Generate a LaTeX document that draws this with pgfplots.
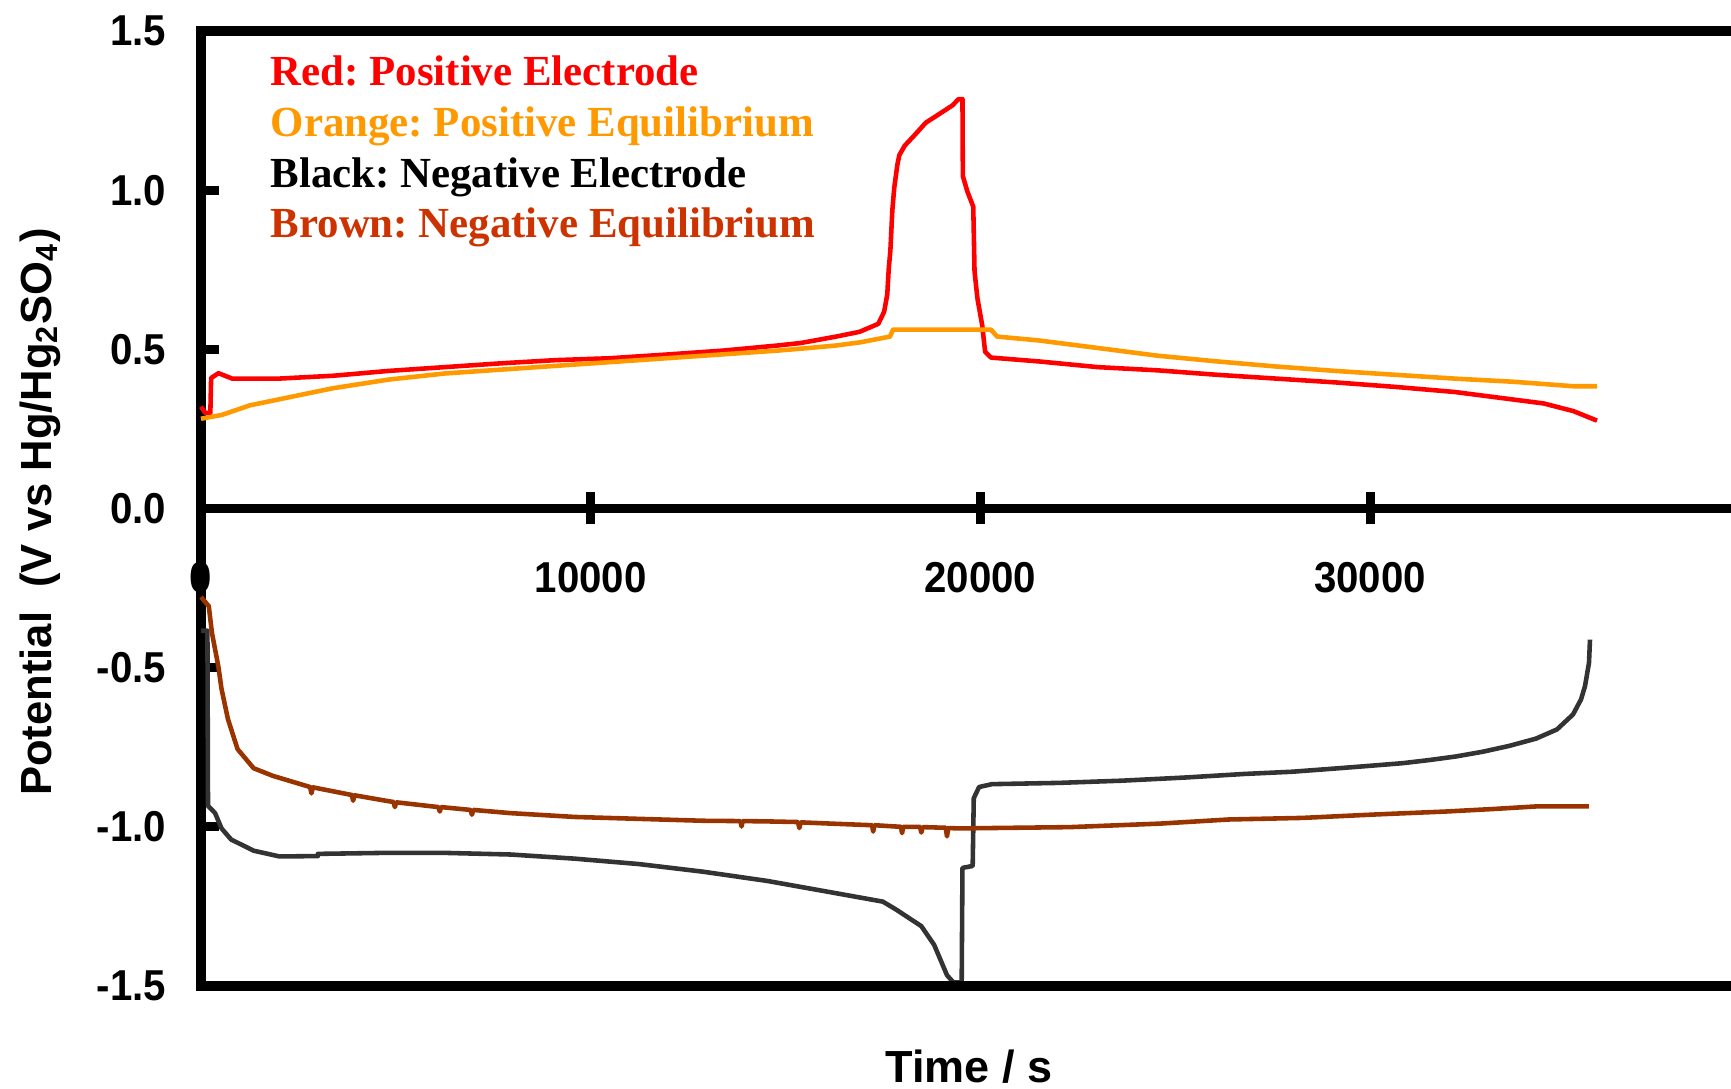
\documentclass[border=0pt]{standalone}
\usepackage{fontspec}
\setmainfont{Liberation Sans}
\newfontfamily\tnr{Liberation Serif}
\usepackage{pgfplots}
\pgfplotsset{compat=1.18}
\definecolor{cred}{RGB}{255,0,0}
\definecolor{corange}{RGB}{255,153,0}
\definecolor{cblack}{RGB}{51,51,51}
\definecolor{cbrown}{RGB}{153,51,0}
\definecolor{tbrown}{RGB}{204,51,0}
\frenchspacing
\begin{document}
\begin{tikzpicture}
\path[use as bounding box] (0,0) rectangle (17.31cm,10.89cm);
\begin{axis}[
  at={(2.01cm,1.03cm)}, anchor=south west,
  scale only axis, width=15.588cm, height=9.55cm,
  xmin=0, xmax=40000, ymin=-1.5, ymax=1.5,
  clip=false,
  axis x line=middle, axis y line=left,
  axis line style={-, line width=2.6pt, black, line cap=rect},
  hide obscured x ticks=false,
  scaled x ticks=false,
  xtick={0,10000,20000,30000}, xticklabels={0,10000,20000,30000},
  ytick={-1.5,-1,-0.5,0,0.5,1,1.5},
  yticklabels={-1.5,-1.0,-0.5,0.0,0.5,1.0,1.5},
  tick style={line width=2.6pt, black},
  xtick align=center, ytick align=inside,
  x tick style={/pgfplots/major tick length=0.32cm},
  y tick style={/pgfplots/major tick length=0.18cm},
  tick label style={font=\fontsize{12.3}{14}\selectfont\bfseries, xscale=0.93},
  xticklabel style={anchor=north, yshift=-0.336cm},
  yticklabel style={anchor=east, xshift=-0.25cm},
  every axis plot/.append style={line width=1.3pt, line join=round},
]
\addplot[cred] coordinates {
(0,0.32) (110,0.30) (240,0.30) (260,0.41) (450,0.425) (800,0.408) (2000,0.408)
(3400,0.417) (4800,0.432) (6250,0.444) (7700,0.456) (9100,0.466) (10500,0.472)
(12000,0.484) (13400,0.496) (14800,0.512) (15400,0.52) (16300,0.54) (16900,0.555)
(17380,0.58) (17530,0.618) (17610,0.672) (17650,0.756) (17690,0.81) (17740,0.936)
(17790,1.008) (17870,1.08) (17920,1.11) (18060,1.14) (18290,1.17) (18600,1.212)
(18980,1.242) (19280,1.266) (19440,1.286) (19540,1.286) (19550,1.044) (19665,0.996)
(19817,0.948) (19850,0.744) (19924,0.66) (20046,0.576) (20122,0.492) (20274,0.474)
(21494,0.462) (23018,0.444) (24543,0.434) (26067,0.42) (27591,0.408) (29116,0.396)
(30640,0.382) (32165,0.366) (33689,0.342) (34451,0.33) (35213,0.306) (35823,0.276)
};
\addplot[corange] coordinates {
(0,0.282) (540,0.294) (1255,0.324) (1970,0.342) (2680,0.36) (3400,0.378) (4820,0.405)
(6250,0.424) (7675,0.436) (9100,0.448) (10530,0.46) (11950,0.472) (13380,0.484)
(14800,0.496) (15400,0.502) (16300,0.512) (16920,0.522) (17680,0.54) (17760,0.562)
(20270,0.562) (20430,0.54) (21490,0.528) (23020,0.504) (24540,0.48) (26070,0.462)
(27590,0.446) (29120,0.432) (30640,0.42) (32165,0.408) (33690,0.398) (35213,0.384)
(35823,0.384)
};
\addplot[cblack] coordinates {
(0,-0.384) (165,-0.384) (180,-0.934) (362,-0.957) (527,-1.005) (774,-1.04)
(1351,-1.075) (2010,-1.093) (2998,-1.092) (3000,-1.085) (4646,-1.082) (6293,-1.082)
(7941,-1.087) (9588,-1.1) (11235,-1.117) (12883,-1.141) (14530,-1.17) (16178,-1.206)
(17496,-1.235) (17825,-1.259) (18484,-1.312) (18814,-1.371) (19143,-1.466)
(19308,-1.489) (19520,-1.489) (19540,-1.129) (19802,-1.123) (19830,-0.91)
(19967,-0.875) (20296,-0.866) (22017,-0.862) (23646,-0.855) (25276,-0.845)
(26764,-0.834) (27996,-0.827) (29088,-0.817) (30034,-0.808) (30844,-0.8)
(31538,-0.79) (32204,-0.779) (32897,-0.764) (33564,-0.746) (34257,-0.723)
(34797,-0.694) (35207,-0.647) (35412,-0.6) (35515,-0.558) (35617,-0.485) (35643,-0.412)
};
\addplot[cbrown] coordinates {
(0,-0.278) (200,-0.307) (280,-0.39) (445,-0.496) (527,-0.567) (692,-0.662)
(939,-0.756) (1351,-0.816) (1845,-0.84)
(2800,-0.875) (2834,-0.895) (2870,-0.876)
(3870,-0.900) (3904,-0.918) (3940,-0.901)
(4646,-0.916)
(4940,-0.922) (4975,-0.938) (5010,-0.923)
(6090,-0.938) (6128,-0.952) (6160,-0.938)
(6920,-0.947) (6952,-0.962) (6990,-0.947)
(7941,-0.957) (9588,-0.969) (11235,-0.975) (12883,-0.981)
(13840,-0.982) (13871,-0.999) (13900,-0.982)
(14530,-0.983)
(15320,-0.985) (15354,-1.004) (15390,-0.986)
(16178,-0.99)
(17220,-0.995) (17249,-1.015) (17280,-0.995)
(17960,-1.0) (17990,-1.02) (18020,-1.0)
(18450,-1.0) (18484,-1.018) (18520,-1.001)
(19110,-1.003) (19143,-1.03) (19175,-1.004)
(19473,-1.005) (22287,-1.001) (24600,-0.99)
(26370,-0.977) (28270,-0.972) (30176,-0.961) (31941,-0.952) (33165,-0.944)
(34257,-0.936) (35617,-0.936)
};
\draw[line width=2.6pt, black, line cap=rect] (axis cs:0,1.5) -- (axis cs:40000,1.5);
\draw[line width=2.6pt, black, line cap=rect] (axis cs:0,-1.5) -- (axis cs:40000,-1.5);
\end{axis}
\begin{scope}[every node/.style={anchor=base west, inner sep=0pt, font=\tnr\bfseries\fontsize{12.2}{14}\selectfont}]
\node[text=cred] at (2.70cm,10.03cm) {Red: Positive Electrode};
\node[text=corange] at (2.70cm,9.52cm) {Orange: Positive Equilibrium};
\node[text=black] at (2.70cm,9.01cm) {Black: Negative Electrode};
\node[text=tbrown] at (2.70cm,8.51cm) {Brown: Negative Equilibrium};
\end{scope}
\node[anchor=base, inner sep=0pt, font=\fontsize{12.8}{14}\selectfont\bfseries] at (9.69cm,0.06cm) {Time / s};
\node[anchor=base, inner sep=0pt, rotate=90, font=\fontsize{12.4}{14}\selectfont\bfseries] at (0.51cm,5.77cm) {Potential\ \ (V vs Hg/Hg\textsubscript{2}SO\textsubscript{4})};
\end{tikzpicture}
\end{document}
